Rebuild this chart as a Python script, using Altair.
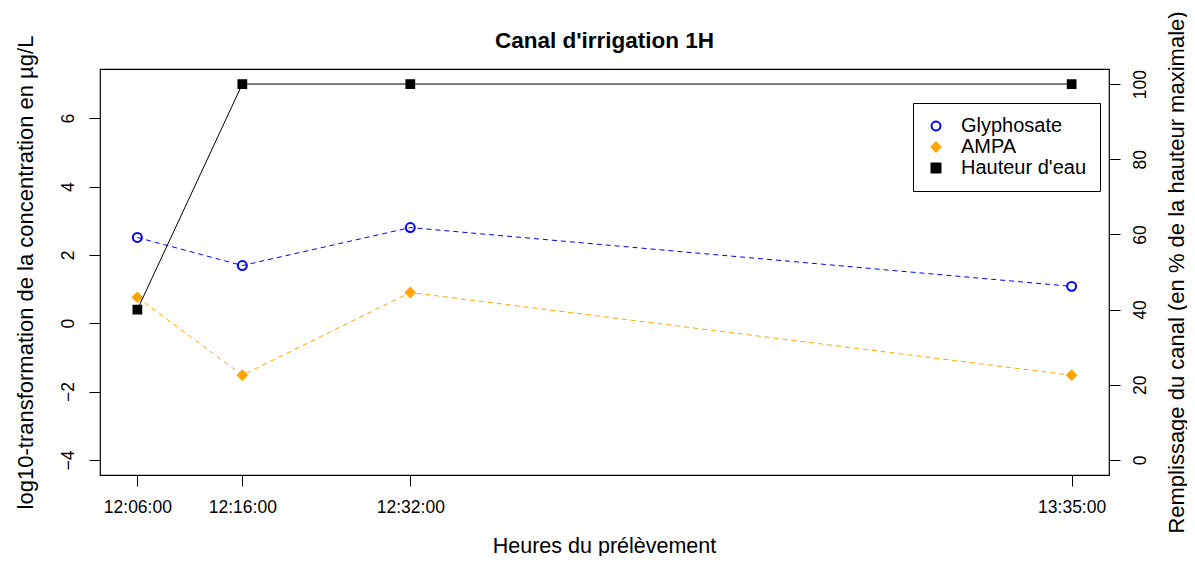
import altair as alt
import pandas as pd

# ---- data ----
times = ["12:06:00", "12:16:00", "12:32:00", "13:35:00"]
minutes = [6, 16, 32, 95]            # minutes after 12:00
glyphosate = [2.51, 1.69, 2.80, 1.08]
ampa = [0.76, -1.52, 0.90, -1.52]
hauteur = [40, 100, 100, 100]
series = ["Glyphosate", "AMPA", "Hauteur d'eau"]
left_ticks = [-4, -2, 0, 2, 4, 6]
right_ticks = [0, 20, 40, 60, 80, 100]

conc = pd.DataFrame(
    {"min": minutes * 2,
     "time": times * 2,
     "val": glyphosate + ampa,
     "series": ["Glyphosate"] * 4 + ["AMPA"] * 4}
)
haut = pd.DataFrame({"min": minutes, "time": times, "val": hauteur,
                     "series": ["Hauteur d'eau"] * 4})

FONT = "Liberation Sans"
colors = ["#0000FF", "#FFA500", "#000000"]

stroke_scale = alt.Scale(domain=series, range=colors)
fill_scale = alt.Scale(domain=series, range=["transparent", "#FFA500", "#000000"])
shape_scale = alt.Scale(domain=series, range=["circle", "diamond", "square"])

x_enc = alt.X(
    "min:Q",
    scale=alt.Scale(domain=[2.44, 98.56], nice=False, zero=False),
    axis=alt.Axis(
        values=minutes,
        labelExpr="timeFormat(datetime(2020,0,1,12,datum.value,0),'%H:%M:%S')",
        title="Heures du prélèvement",
        titleX=504, titleY=71, titleAlign="center", titleBaseline="middle",
        labelPadding=12, tickSize=11, domain=False, grid=False,
        labelFontSize=17.5, titleFontSize=21.5, labelFont=FONT, titleFont=FONT,
        titleFontWeight="normal", labelColor="black", titleColor="black",
        tickColor="black", labelFlush=False, labelOverlap=False,
    ),
)

y_left = alt.Y(
    "val:Q",
    scale=alt.Scale(domain=[-4.44, 7.44], nice=False, zero=False),
    axis=alt.Axis(
        values=left_ticks, orient="left",
        title="log10-transformation de la concentration en µg/L",
        titleX=-75, titleY=203, titleAngle=270, titleAlign="center",
        titleBaseline="middle",
        labelAngle=270, labelAlign="center", labelBaseline="bottom",
        labelPadding=12, tickSize=11, domain=False, grid=False,
        labelFontSize=17.5, titleFontSize=22, labelFont=FONT, titleFont=FONT,
        titleFontWeight="normal", labelColor="black", titleColor="black",
        tickColor="black", labelFlush=False,
    ),
)

y_right = alt.Y(
    "val:Q",
    scale=alt.Scale(domain=[-4, 104], nice=False, zero=False),
    axis=alt.Axis(
        values=right_ticks, orient="right",
        title="Remplissage du canal (en % de la hauteur maximale)",
        titleX=67, titleY=203, titleAngle=270, titleAlign="center",
        titleBaseline="middle",
        labelAngle=270, labelAlign="center", labelBaseline="top",
        labelPadding=11, tickSize=11, domain=False, grid=False,
        labelFontSize=17.5, titleFontSize=22, labelFont=FONT, titleFont=FONT,
        titleFontWeight="normal", labelColor="black", titleColor="black",
        tickColor="black", labelFlush=False,
    ),
)

legend = alt.Legend(
    title=None, orient="none", legendX=813, legendY=34,
    strokeColor="black", fillColor="white", cornerRadius=0,
    padding=13, labelFontSize=20, labelFont=FONT, labelColor="black",
    rowPadding=1, labelOffset=15, symbolStrokeWidth=2, symbolSize=80,
)

def point_enc():
    return dict(
        stroke=alt.Stroke("series:N", scale=stroke_scale, legend=legend),
        fill=alt.Fill("series:N", scale=fill_scale, legend=legend),
        shape=alt.Shape("series:N", scale=shape_scale, legend=legend),
    )

glyph_line = (
    alt.Chart(conc)
    .transform_filter(alt.datum.series == "Glyphosate")
    .mark_line(strokeDash=[5, 4], strokeWidth=1, color=colors[0])
    .encode(x=x_enc, y=y_left)
)
ampa_line = (
    alt.Chart(conc)
    .transform_filter(alt.datum.series == "AMPA")
    .mark_line(strokeDash=[5, 4], strokeWidth=1, color=colors[1])
    .encode(x=x_enc, y=y_left)
)
left_points = alt.Chart(conc).mark_point(opacity=1, strokeWidth=2, size=80).encode(
    x=x_enc, y=y_left, **point_enc()
)
right_line = alt.Chart(haut).mark_line(strokeWidth=1, color="black").encode(
    x=x_enc, y=y_right,
)
right_points = alt.Chart(haut).mark_point(opacity=1, strokeWidth=2, size=60).encode(
    x=x_enc, y=y_right, **point_enc()
)

left = alt.layer(glyph_line, ampa_line, left_points)
right = alt.layer(right_line, right_points)

chart = (
    alt.layer(left, right)
    .resolve_scale(y="independent")
    .properties(
        width=1009, height=406,
        autosize=alt.AutoSizeParams(type="none"),
        padding={"left": 92, "top": 61, "right": 78, "bottom": 81},
        title=alt.TitleParams(
            "Canal d'irrigation 1H", font=FONT, fontSize=22.5, fontWeight="bold",
            color="black", anchor="middle", frame="group", dy=46,
        ),
    )
    .configure(background="white")
    .configure_view(stroke="black", strokeWidth=1.2)
)

chart.save("out.html", embed_options={"renderer": "svg", "actions": False})
